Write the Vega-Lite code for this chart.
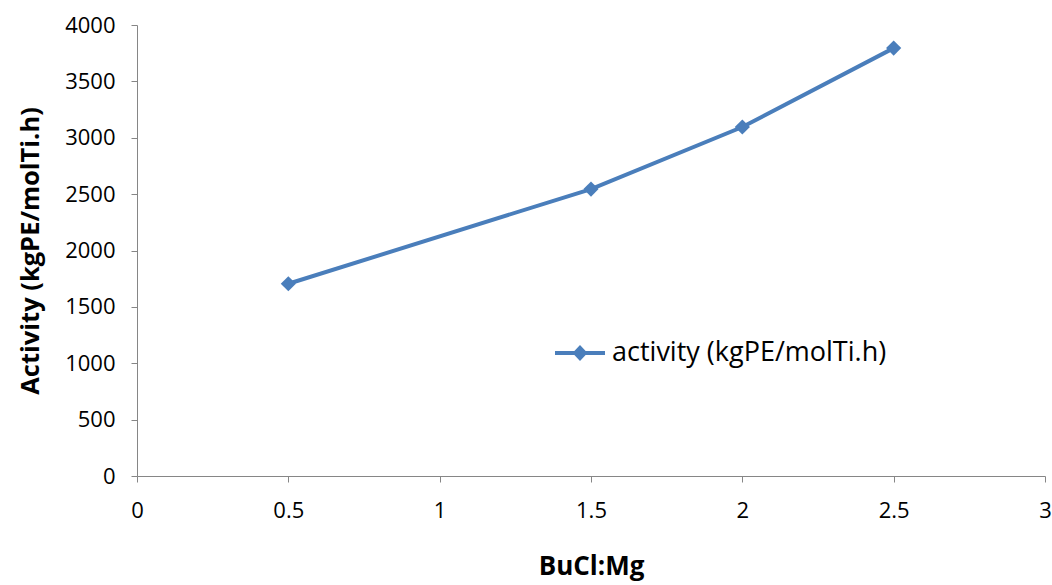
{
  "$schema": "https://vega.github.io/schema/vega-lite/v6.json",
  "width": 908,
  "height": 451,
  "autosize": "none",
  "padding": {"left": 137, "top": 25, "right": 7, "bottom": 109},
  "background": "white",
  "config": {
    "view": {"stroke": null},
    "font": "Open Sans"
  },
  "data": {
    "values": [
      {"ratio": 0.5, "activity": 1705, "series": "activity (kgPE/molTi.h)"},
      {"ratio": 1.5, "activity": 2545, "series": "activity (kgPE/molTi.h)"},
      {"ratio": 2.0, "activity": 3095, "series": "activity (kgPE/molTi.h)"},
      {"ratio": 2.5, "activity": 3795, "series": "activity (kgPE/molTi.h)"}
    ]
  },
  "mark": {
    "type": "line",
    "strokeWidth": 4,
    "point": {"shape": "diamond", "size": 230, "filled": true, "opacity": 1}
  },
  "encoding": {
    "x": {
      "field": "ratio",
      "type": "quantitative",
      "scale": {"domain": [0, 3], "nice": false},
      "axis": {
        "values": [0, 0.5, 1, 1.5, 2, 2.5, 3],
        "format": "~g",
        "title": "BuCl:Mg",
        "titleFontSize": 26,
        "titleFontWeight": "bold",
        "titleColor": "black",
        "titlePadding": 32,
        "labelFontSize": 22,
        "labelColor": "black",
        "labelPadding": 18,
        "labelFlush": false,
        "grid": false,
        "domainColor": "#868686",
        "tickColor": "#868686",
        "tickSize": 6
      }
    },
    "y": {
      "field": "activity",
      "type": "quantitative",
      "scale": {"domain": [0, 4000], "nice": false},
      "axis": {
        "values": [0, 500, 1000, 1500, 2000, 2500, 3000, 3500, 4000],
        "format": "d",
        "title": "Activity (kgPE/molTi.h)",
        "titleFontSize": 25.5,
        "titleFontWeight": "bold",
        "titleColor": "black",
        "titlePadding": 21,
        "labelFontSize": 22,
        "labelColor": "black",
        "labelPadding": 16,
        "grid": false,
        "domainColor": "#868686",
        "tickColor": "#868686",
        "tickSize": 6
      }
    },
    "color": {
      "field": "series",
      "type": "nominal",
      "scale": {"range": ["#4a7ebb"]},
      "legend": {
        "title": null,
        "orient": "none",
        "legendX": 418,
        "legendY": 303,
        "padding": 0,
        "symbolType": "M-1,-0.08L1,-0.08L1,0.08L-1,0.08Z M-0.3,0L0,-0.32L0.3,0L0,0.32Z",
        "symbolSize": 2500,
        "symbolStrokeWidth": 0,
        "symbolFillColor": "#4a7ebb",
        "labelFontSize": 27,
        "labelLimit": 0,
        "labelColor": "black",
        "labelOffset": 7
      }
    }
  }
}
